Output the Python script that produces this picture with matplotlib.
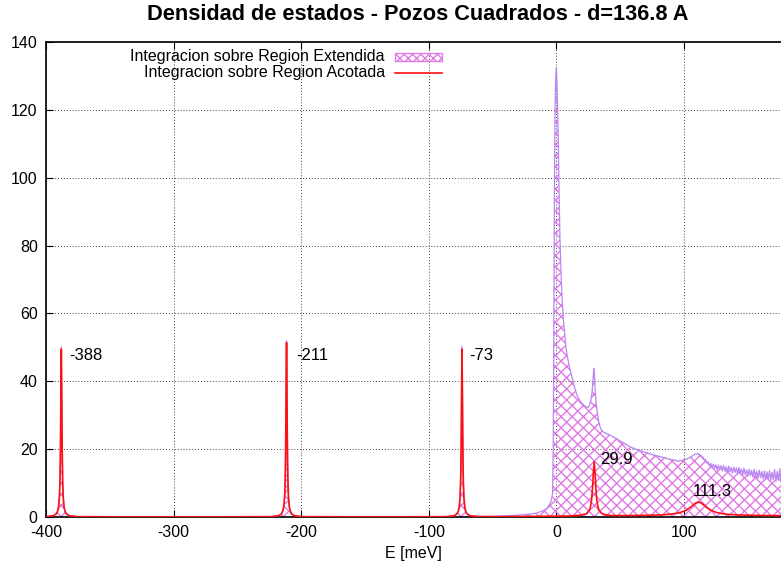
import matplotlib
matplotlib.use("Agg")
import matplotlib.pyplot as plt
from matplotlib.patches import Rectangle
from matplotlib.lines import Line2D

plt.rcParams['font.family'] = ['Liberation Sans', 'DejaVu Sans']
plt.rcParams['hatch.linewidth'] = 1.0

title = "Densidad de estados - Pozos Cuadrados - d=136.8 A"
xlabel = "E [meV]"
label_ext = "Integracion sobre Region Extendida"
label_acot = "Integracion sobre Region Acotada"

xticks = [-400, -300, -200, -100, 0, 100]
yticks = [0, 20, 40, 60, 80, 100, 120, 140]

# ---- Extended-region integration (filled, hatched) ----
ext_E_low = [-400, -394, -392, -391, -390.2, -389.5, -389.1, -388.8, -388.55, -388.3, -388,
             -387.7, -387.45, -387.2, -386.9, -386.5, -385.8, -385, -384, -382, -376,
             -340, -260,
             -223.5, -217.5, -215.5, -214.5, -213.7, -213, -212.6, -212.3, -212.05, -211.8, -211.5,
             -211.2, -210.95, -210.7, -210.4, -210, -209.3, -208.5, -207.5, -205.5, -199.5,
             -150, -100,
             -86, -80, -78, -77, -76.2, -75.5, -75.1, -74.8, -74.55, -74.3, -74,
             -73.7, -73.45, -73.2, -72.9, -72.5, -71.8, -71, -70, -68, -62,
             -50, -40, -30, -20, -15, -10, -7, -5, -4, -3, -2.5, -2, -1.5, -1, -0.5, 0,
             0.5, 1, 1.5, 2, 2.8, 3.5, 4.5, 5.5, 6.5, 7.5, 8.5, 10, 12, 14, 16, 18, 20, 22,
             24, 25, 26, 27, 28, 28.8, 29.3, 29.8, 30.4, 31, 32, 33, 34, 35, 36]
ext_V_low = [0.05, 0.45, 1.0, 1.7, 2.9, 6.0, 10.3, 16.3, 25.5, 38.5, 50.2,
             38.5, 25.5, 16.3, 10.3, 6.0, 2.9, 1.7, 1.0, 0.45, 0.12,
             0.05, 0.06,
             0.12, 0.45, 1.0, 1.8, 3.0, 6.1, 10.6, 16.9, 26.5, 40, 52,
             40, 26.5, 16.9, 10.6, 6.1, 3.0, 1.8, 1.0, 0.45, 0.12,
             0.06, 0.08,
             0.12, 0.45, 1.0, 1.7, 2.9, 6.0, 10.3, 16.3, 25.5, 38.5, 50.3,
             38.5, 25.5, 16.3, 10.3, 6.0, 2.9, 1.7, 1.0, 0.5, 0.18,
             0.25, 0.35, 0.55, 0.9, 1.2, 1.9, 2.7, 4.0, 5.0, 7.0, 20, 60, 100, 122, 130, 132.5,
             127, 119, 111, 97, 82, 73, 64, 58, 54, 50, 47.5, 44.5, 41.5, 38.5, 36, 34.5, 33.5, 32.8,
             32.3, 32.4, 33, 34.5, 37, 41, 43.8, 42, 37.5, 34, 31, 28.5, 26.8, 25.8, 25.3]

ext_E_tail = [37, 38, 39, 40, 41, 42, 43, 44, 45, 46, 47, 48, 49, 50, 51, 52, 53, 54, 55, 56,
              57, 58, 59, 60, 61, 62, 63, 64, 65, 66, 67, 68, 69, 70, 71, 72, 73, 74, 75, 76,
              77, 78, 79, 80, 81, 82, 83, 84, 85, 86, 87, 88, 89, 90, 91, 92, 93, 94, 95, 96,
              97, 98, 99, 100, 101, 102, 103, 104, 105, 106, 107, 108, 109, 110, 111, 112, 113, 114, 115, 116,
              117, 118, 119, 120, 121, 122, 123, 124, 125, 126, 127, 128, 129, 130, 131, 132, 133, 134, 135, 136,
              137, 138, 139, 140, 141, 142, 143, 144, 145, 146, 147, 148, 149, 150, 151, 152, 153, 154, 155, 156,
              157, 158, 159, 160, 161, 162, 163, 164, 165, 166, 167, 168, 169, 170, 171, 172, 173, 174, 175, 176]
ext_V_tail = [25.0, 24.8, 24.7, 24.4, 24.4, 24.1, 24.0, 23.6, 23.6, 23.2, 23.2, 22.8, 22.7, 22.3, 22.3, 21.9, 21.8, 21.4, 21.4, 21.0,
              20.9, 20.6, 20.6, 20.2, 20.3, 19.9, 20.0, 19.6, 19.7, 19.4, 19.5, 19.1, 19.2, 18.9, 19.0, 18.7, 18.8, 18.4, 18.5, 18.2,
              18.3, 18.0, 18.1, 17.8, 17.9, 17.6, 17.7, 17.4, 17.5, 17.2, 17.3, 17.0, 17.1, 16.8, 16.9, 16.7, 16.8, 16.5, 16.6, 16.5,
              16.6, 16.6, 16.8, 16.8, 17.0, 17.0, 17.3, 17.4, 17.7, 17.8, 18.2, 18.3, 18.6, 18.5, 18.7, 18.3, 18.3, 17.7, 17.6, 16.8,
              16.9, 15.9, 16.2, 15.1, 15.8, 14.6, 15.6, 14.3, 15.4, 13.9, 15.3, 14.0, 15.1, 13.6, 15.2, 13.5, 14.8, 13.2, 15.0, 13.4,
              14.6, 12.9, 14.7, 13.1, 14.5, 12.6, 14.6, 12.8, 14.2, 12.4, 14.4, 12.5, 13.9, 12.0, 14.1, 12.2, 13.8, 11.7, 14.0, 11.9,
              13.5, 11.4, 13.8, 11.6, 13.4, 11.2, 13.6, 11.0, 13.3, 11.3, 13.7, 10.8, 13.2, 11.0, 14.0, 10.5, 13.4, 10.8, 14.2, 10.4]

# ---- Bounded-region integration (red line) ----
acot_E = [-400, -394, -392, -391, -390.2, -389.5, -389.1, -388.8, -388.55, -388.3, -388,
          -387.7, -387.45, -387.2, -386.9, -386.5, -385.8, -385, -384, -382, -376,
          -340, -260,
          -223.5, -217.5, -215.5, -214.5, -213.7, -213, -212.6, -212.3, -212.05, -211.8, -211.5,
          -211.2, -210.95, -210.7, -210.4, -210, -209.3, -208.5, -207.5, -205.5, -199.5,
          -150, -100,
          -86, -80, -78, -77, -76.2, -75.5, -75.1, -74.8, -74.55, -74.3, -74,
          -73.7, -73.45, -73.2, -72.9, -72.5, -71.8, -71, -70, -68, -62,
          -50, -30, -15, 0, 10,
          14.6, 19.6, 23.6, 25.6, 26.6, 27.6, 28.3, 28.9, 29.6, 30.3, 30.9, 31.6, 32.6, 33.6, 35.6, 39.6, 44.6,
          52, 61.3, 71.3, 81.3, 87.3, 93.3, 97.3, 101.3, 104.3, 107.3, 109.3, 111.3,
          113.3, 115.3, 118.3, 121.3, 125.3, 129.3, 135.3, 141.3, 151.3, 161.3, 176]
acot_V = [0.05, 0.4, 0.9, 1.6, 2.8, 5.8, 10, 16, 25, 38, 49.5,
          38, 25, 16, 10, 5.8, 2.8, 1.6, 0.9, 0.4, 0.1,
          0.05, 0.06,
          0.1, 0.4, 0.9, 1.7, 2.9, 6.0, 10.4, 16.6, 26, 39.5, 51.4,
          39.5, 26, 16.6, 10.4, 6.0, 2.9, 1.7, 0.9, 0.4, 0.1,
          0.06, 0.08,
          0.1, 0.4, 0.9, 1.6, 2.8, 5.8, 10, 16, 25, 38, 49.5,
          38, 25, 16, 10, 5.8, 2.8, 1.6, 0.9, 0.4, 0.12,
          0.1, 0.15, 0.2, 0.25, 0.3,
          0.42, 0.57, 1.0, 1.86, 2.9, 5.1, 8.5, 12.8, 16.3, 12.8, 8.5, 5.1, 2.9, 1.86, 1.0, 0.57, 0.42,
          0.42, 0.45, 0.51, 0.62, 0.75, 1.02, 1.35, 1.93, 2.64, 3.59, 4.16, 4.4,
          4.16, 3.59, 2.64, 1.93, 1.35, 1.02, 0.75, 0.62, 0.51, 0.45, 0.4]

peak_labels = ["-388", "-211", "-73", "29.9", "111.3"]
peak_label_E = [-382, -204, -68.3, 34.2, 106.5]
peak_label_V = [47.7, 47.7, 47.7, 16.8, 7.5]

ext_E = ext_E_low + ext_E_tail
ext_V = ext_V_low + ext_V_tail

hatch_color = '#e07ae4'
ext_line_color = '#b987f2'
red = '#ff1010'

W, H = 781, 572
fig = plt.figure(figsize=(W / 100, H / 100), dpi=100)
ax = fig.add_axes([46 / W, 55 / H, 1 - 46 / W, 475 / H])

ax.fill_between(ext_E, 0, ext_V, facecolor='none', edgecolor=hatch_color,
                hatch='xxx', linewidth=0, zorder=2)
ax.plot(ext_E, ext_V, color=ext_line_color, linewidth=0.9, zorder=3)
ax.plot(acot_E, acot_V, color=red, linewidth=1.2, zorder=4)

for t, xe, yv in zip(peak_labels, peak_label_E, peak_label_V):
    ax.text(xe, yv, t, ha='left', va='center', fontsize=12, color='black', zorder=5)

ax.set_xlim(-400, 176)
ax.set_ylim(0, 140)
ax.set_xticks(xticks)
ax.set_yticks(yticks)
ax.set_xticklabels([str(v) for v in xticks])
ax.set_yticklabels([str(v) for v in yticks])
ax.tick_params(direction='in', length=5, width=0.8, top=True, right=False,
               labelsize=11.5, pad=6)
ax.grid(True, color='black', linestyle=(0, (1, 2.5)), linewidth=0.6)
ax.set_axisbelow(True)
for s in ['left', 'bottom', 'top']:
    ax.spines[s].set_linewidth(1.2)
ax.spines['right'].set_visible(False)

ax.set_xlabel(xlabel, fontsize=11.5, labelpad=4)

fig.text(417.5 / W, 1 - 14 / H, title, ha='center', va='center',
         fontsize=15.7, fontweight='bold')

# gnuplot-style key: right-aligned text, sample to the right
fig.text(385 / W, 1 - 57 / H, label_ext, ha='right', va='center', fontsize=11.5)
fig.text(385 / W, 1 - 73 / H, label_acot, ha='right', va='center', fontsize=11.5)
fig.add_artist(Rectangle((395 / W, 1 - 61 / H), 47 / W, 8 / H, transform=fig.transFigure,
                         facecolor='none', edgecolor=hatch_color, hatch='xxxx', linewidth=1.0))
fig.add_artist(Line2D([395 / W, 442 / W], [1 - 73 / H, 1 - 73 / H], transform=fig.transFigure,
                      color=red, linewidth=1.2))

fig.savefig('out.png', dpi=100)
